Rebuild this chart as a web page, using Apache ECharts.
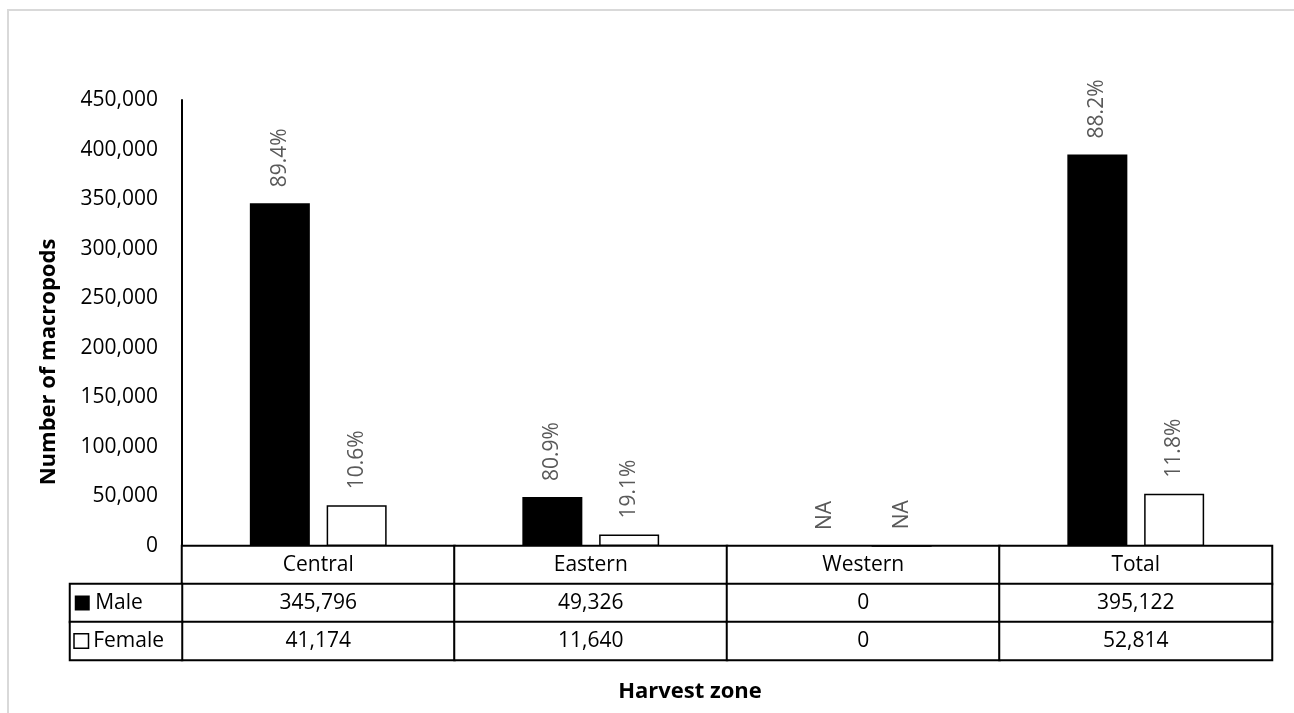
<!DOCTYPE html>
<html>
<head>
<meta charset="utf-8">
<style>html,body{margin:0;padding:0;background:#fff;}#chart{width:1294px;height:713px;}</style>
<script src="https://cdn.jsdelivr.net/npm/echarts@6/dist/echarts.min.js"></script>
</head>
<body>
<div id="chart"></div>
<script>
// ---- data ----
const zones = ['Central', 'Eastern', 'Western', 'Total'];
const maleValues = [345796, 49326, 0, 395122];
const femaleValues = [41174, 11640, 0, 52814];
const malePct = ['89.4%', '80.9%', 'NA', '88.2%'];
const femalePct = ['10.6%', '19.1%', 'NA', '11.8%'];
const seriesNames = ['Male', 'Female'];
const yTicks = [0, 50000, 100000, 150000, 200000, 250000, 300000, 350000, 400000, 450000];

const FONT = 'Open Sans';
const fmt = v => Number(v).toLocaleString('en-US');

// table cells built from the arrays above: rows 2 = zone names, 1 = male, 0 = female
const tableRows = ['Female', 'Male', 'Zone'];
const tableData = [];
const tableText = [];
zones.forEach((z, i) => {
  tableData.push([i, 2, 0]); tableText.push(z);
  tableData.push([i, 1, maleValues[i]]); tableText.push(fmt(maleValues[i]));
  tableData.push([i, 0, femaleValues[i]]); tableText.push(fmt(femaleValues[i]));
});
const headerData = [[0, 1, 1], [0, 0, 0]];
const headerText = ['{blk|} ' + seriesNames[0], '{wht|} ' + seriesNames[1]];

const chart = echarts.init(document.getElementById('chart'), null, {renderer: 'canvas'});
const labelBase = {
  show: true, position: 'top', rotate: 90, align: 'left', verticalAlign: 'middle',
  distance: 16, color: '#595959', fontFamily: FONT, fontSize: 21
};
chart.setOption({
  animation: false,
  backgroundColor: '#fff',
  grid: [
    {left: 182, right: 22, top: 100, bottom: 167, containLabel: false},
    {left: 182, right: 22, top: 546, height: 114, containLabel: false},
    {left: 70, width: 112, top: 584, height: 76, containLabel: false}
  ],
  xAxis: [
    {gridIndex: 0, type: 'category', data: zones, axisLine: {show: true, lineStyle: {color: '#000', width: 2}},
     axisTick: {show: false}, axisLabel: {show: false}},
    {gridIndex: 1, type: 'category', data: zones, show: false},
    {gridIndex: 2, type: 'category', data: ['h'], show: false}
  ],
  yAxis: [
    {gridIndex: 0, type: 'value', min: 0, max: yTicks[yTicks.length - 1], interval: yTicks[1] - yTicks[0],
     axisLine: {show: true, lineStyle: {color: '#000', width: 2}}, axisTick: {show: false}, splitLine: {show: false},
     axisLabel: {color: '#000', fontFamily: FONT, fontSize: 21, margin: 24, formatter: v => fmt(v)}},
    {gridIndex: 1, type: 'category', data: tableRows, show: false},
    {gridIndex: 2, type: 'category', data: ['Female', 'Male'], show: false}
  ],
  graphic: [
    {type: 'rect', z: -10, shape: {x: 8, y: 10, width: 1300, height: 720}, style: {fill: 'none', stroke: '#d9d9d9', lineWidth: 2}},
    {type: 'text', x: 49, y: 362, rotation: Math.PI / 2,
     style: {text: 'Number of macropods', fill: '#000', font: 'bold 22px "Open Sans"', textAlign: 'center', textVerticalAlign: 'middle'}},
    {type: 'text', x: 690, y: 692,
     style: {text: 'Harvest zone', fill: '#000', font: 'bold 22px "Open Sans"', textAlign: 'center', textVerticalAlign: 'middle'}}
  ],
  series: [
    {name: seriesNames[0], type: 'bar', xAxisIndex: 0, yAxisIndex: 0, data: maleValues,
     barWidth: 60, barGap: '28%', itemStyle: {color: '#000'},
     label: Object.assign({}, labelBase, {formatter: p => malePct[p.dataIndex]})},
    {name: seriesNames[1], type: 'bar', xAxisIndex: 0, yAxisIndex: 0, data: femaleValues,
     barWidth: 60, barGap: '28%', itemStyle: {color: '#fff', borderColor: '#000', borderWidth: 1.5},
     label: Object.assign({}, labelBase, {formatter: p => femalePct[p.dataIndex]})},
    {type: 'heatmap', xAxisIndex: 1, yAxisIndex: 1, data: tableData,
     itemStyle: {color: '#fff', borderColor: '#000', borderWidth: 2},
     emphasis: {disabled: true},
     label: {show: true, color: '#000', fontFamily: FONT, fontSize: 21, formatter: p => tableText[p.dataIndex]}},
    {type: 'heatmap', xAxisIndex: 2, yAxisIndex: 2, data: headerData,
     itemStyle: {color: '#fff', borderColor: '#000', borderWidth: 2},
     emphasis: {disabled: true},
     label: {show: true, position: 'insideLeft', distance: 6, color: '#000', fontFamily: FONT, fontSize: 21,
       formatter: p => headerText[p.dataIndex],
       rich: {
         blk: {width: 15, height: 15, backgroundColor: '#000'},
         wht: {width: 13, height: 13, backgroundColor: '#fff', borderColor: '#000', borderWidth: 1.5}
       }}}
  ]
});
</script>
</body>
</html>
